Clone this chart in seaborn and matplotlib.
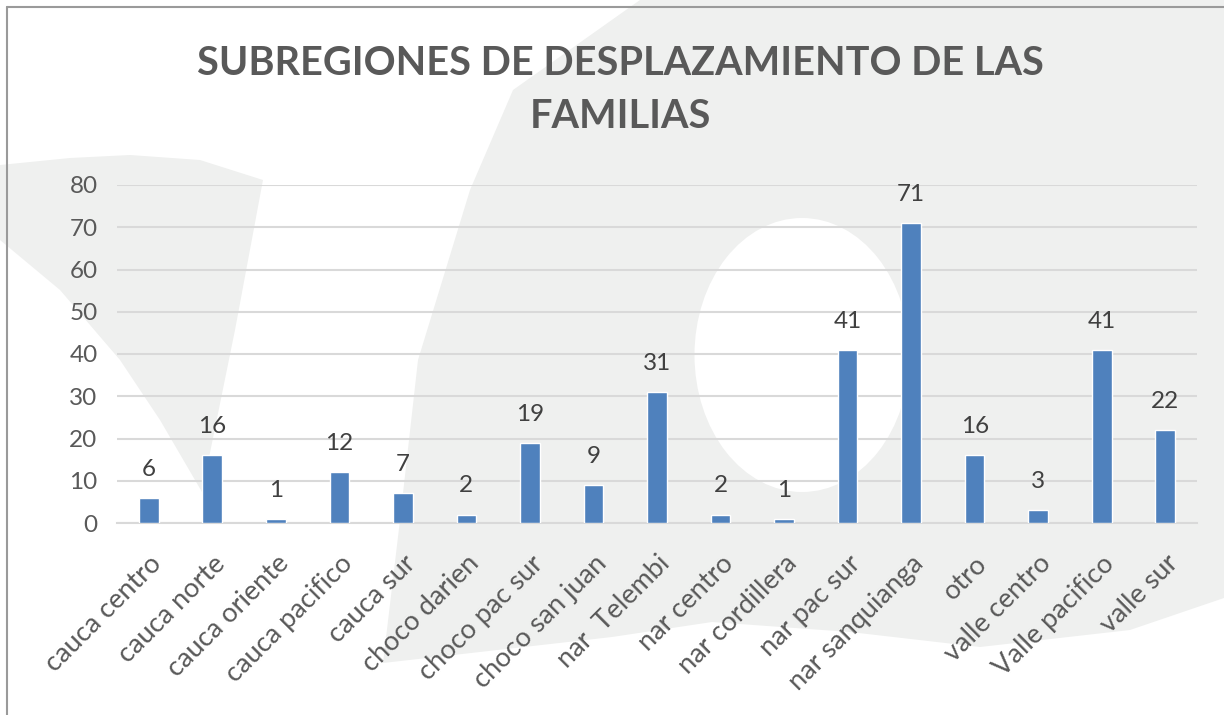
import matplotlib
matplotlib.use("Agg")
import matplotlib.pyplot as plt
from matplotlib.patches import Polygon, Ellipse
from matplotlib.lines import Line2D
import seaborn as sns
import pandas as pd

subregiones = ["cauca centro", "cauca norte", "cauca oriente", "cauca pacifico",
               "cauca sur", "choco darien", "choco pac sur", "choco san juan",
               "nar  Telembi", "nar centro", "nar cordillera", "nar pac sur",
               "nar sanquianga", "otro", "valle centro", "Valle pacifico", "valle sur"]
familias = [6, 16, 1, 12, 7, 2, 19, 9, 31, 2, 1, 41, 71, 16, 3, 41, 22]
y_ticks = [0, 10, 20, 30, 40, 50, 60, 70, 80]

df = pd.DataFrame({"subregion": subregiones, "familias": familias})

sns.set_style("white")
plt.rcParams['font.family'] = ['Lato', 'DejaVu Sans']

W, H = 1224, 715
fig = plt.figure(figsize=(W / 100, H / 100), dpi=100)
fig.patch.set_facecolor("white")


def px(x, y):
    return (x / W, 1 - y / H)


# light grey watermark shapes behind the chart
bg = "#eff0ef"
big = [px(640, 0), px(1224, 0), px(1224, 598), px(1130, 630), px(980, 647),
       px(850, 632), px(712, 622), px(612, 637), px(383, 663), px(400, 520),
       px(418, 360), px(470, 190), px(513, 90)]
fig.patches.append(Polygon(big, closed=True, transform=fig.transFigure,
                           facecolor=bg, edgecolor="none", zorder=0))
left = [px(0, 165), px(70, 158), px(130, 155), px(200, 160), px(263, 180),
        px(235, 330), px(202, 492), px(160, 420), px(120, 360), px(60, 290), px(0, 240)]
fig.patches.append(Polygon(left, closed=True, transform=fig.transFigure,
                           facecolor=bg, edgecolor="none", zorder=0))
cx, cy = px(802, 355)
fig.patches.append(Ellipse((cx, cy), 215 / W, 274 / H, transform=fig.transFigure,
                           facecolor="white", edgecolor="none", zorder=0))

# frame lines
fig.lines.append(Line2D([7 / W, 7 / W], [0, 1 - 7 / H], transform=fig.transFigure,
                        color="#9a9a9a", lw=1.5))
fig.lines.append(Line2D([7 / W, 1], [1 - 7 / H, 1 - 7 / H], transform=fig.transFigure,
                        color="#9a9a9a", lw=1.5))

ax = fig.add_axes([117 / W, 1 - 523 / H, (1197 - 117) / W, (523 - 185) / H])
ax.patch.set_alpha(0)
ax.set_zorder(2)

sns.barplot(data=df, x="subregion", y="familias", color="#4f81bd",
            saturation=1, width=0.31, ax=ax, zorder=3)

for i, v in enumerate(familias):
    ax.annotate(str(v), (i, v), xytext=(0, 13), textcoords="offset points",
                ha="center", va="bottom", fontsize=17.5, color="#404040")

ax.set_ylim(0, 80)
ax.set_xlim(-0.5, len(subregiones) - 0.5)
ax.set_yticks(y_ticks)
ax.set_yticklabels([str(t) for t in y_ticks], fontsize=17.5, color="#595959")
ax.yaxis.grid(True, color="#d9d9d9", lw=1.5)
ax.set_axisbelow(True)
ax.tick_params(axis="both", length=0)
ax.tick_params(axis="y", pad=14)
ax.set_xticks(range(len(subregiones)))
ax.set_xticklabels(subregiones, rotation=45, ha="right", va="top",
                   rotation_mode="anchor", fontsize=19.5, color="#595959")
ax.tick_params(axis="x", pad=20)
ax.set_xlabel("")
ax.set_ylabel("")
for s in ["top", "right", "left"]:
    ax.spines[s].set_visible(False)
ax.spines["bottom"].set_color("#d9d9d9")
ax.spines["bottom"].set_linewidth(1.5)

fig.text(620 / W, 1 - 90 / H, "SUBREGIONES DE DESPLAZAMIENTO DE LAS\nFAMILIAS",
         ha="center", va="center", fontsize=28.5, fontweight="bold", color="#595959",
         linespacing=1.55)

fig.savefig("out.png", dpi=100)
